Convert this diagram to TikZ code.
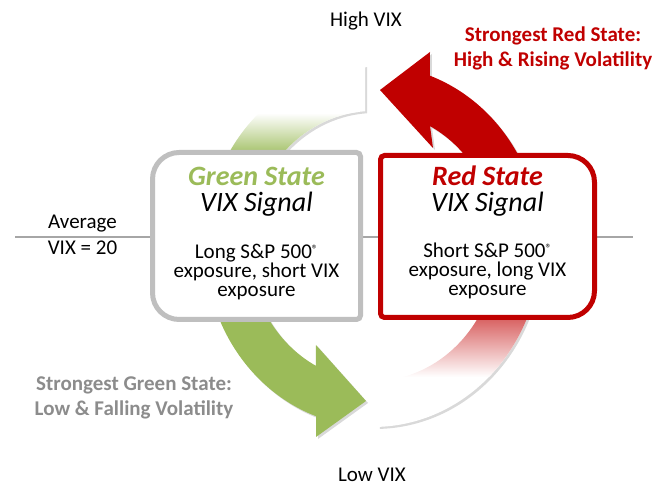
\documentclass[tikz,border=0pt]{standalone}
\usepackage{fontspec}
\setmainfont{Carlito}
\usepackage{tikz}
\usetikzlibrary{calc,shadows}
\definecolor{vixred}{HTML}{C00000}
\definecolor{vixgreen}{HTML}{9BBB59}
\definecolor{boxgray}{HTML}{BFBFBF}
\definecolor{labelgray}{HTML}{8C8C8C}
\definecolor{linegray}{HTML}{A6A6A6}
\newcommand{\regmark}{\raisebox{0.55ex}{\fontsize{9}{9}\selectfont ®}}
\tikzstyle{vixtext} = [font=\fontsize{15.75}{19.5}\selectfont, align=center, anchor=base, inner sep=0pt]
\tikzstyle{statetitle} = [font=\fontsize{21}{24}\selectfont\bfseries\itshape, anchor=base, inner sep=0pt]
\tikzstyle{statesignal} = [font=\fontsize{21}{24}\selectfont\itshape, anchor=base, inner sep=0pt]
\tikzstyle{statebody} = [font=\fontsize{15.75}{14.25}\selectfont, align=center, anchor=base, inner sep=0pt]
\tikzstyle{strongtext} = [font=\fontsize{15.75}{18.75}\selectfont\bfseries, align=center, anchor=base, inner sep=0pt]
\tikzstyle{statebox} = [line width=3.75pt, fill=white]
\tikzstyle{arcshadow} = [drop shadow={opacity=0.3, shadow xshift=1.5pt, shadow yshift=-1.5pt}]

\begin{document}
\begin{tikzpicture}[x=0.75pt, y=0.75pt]
    \useasboundingbox (0,0) rectangle (669,491);
    \coordinate (avgleft) at (15,254);
    \coordinate (avgright) at (633,254);
    \draw[linegray, line width=1.5pt] (avgleft) -- (avgright);

    \begin{scope}[shift={(373,245)}]
        \def\toparc{(92.7:168 and 181) arc[start angle=92.7, end angle=180, x radius=168, y radius=181] -- (180:124 and 135) arc[start angle=180, end angle=93.7, x radius=124, y radius=135] -- cycle}
        \def\bottomarc{(271.7:168 and 181) arc[start angle=271.7, end angle=360, x radius=168, y radius=181] -- (0:124 and 135) arc[start angle=360, end angle=272.3, x radius=124, y radius=135] -- cycle}
        \fill[white, arcshadow] \toparc;
        \begin{scope}
            \clip \toparc;
            \fill[vixgreen] (-200,-10) rectangle (20,88);
            \shade[top color=white, bottom color=vixgreen] (-200,88) rectangle (20,133);
        \end{scope}
        \fill[white, arcshadow] \bottomarc;
        \begin{scope}
            \clip \bottomarc;
            \fill[vixred] (0,-36) rectangle (200,20);
            \shade[top color=vixred, bottom color=white] (0,-131) rectangle (200,-36);
        \end{scope}
        \fill[vixred, arcshadow] (0:168 and 181) arc[start angle=0, end angle=70.2, x radius=168, y radius=181] -- (57,194) -- (7,156) -- (60,98) -- (62.6:124 and 135) arc[start angle=62.6, end angle=0, x radius=124, y radius=135] -- cycle;
        \fill[vixgreen, arcshadow] (180:168 and 181) arc[start angle=180, end angle=250.2, x radius=168, y radius=181] -- (-57,-191) -- (-7,-155) -- (-57,-99) -- (242.6:124 and 135) arc[start angle=242.6, end angle=180, x radius=124, y radius=135] -- cycle;
    \end{scope}

    \draw[statebox, draw=boxgray] (256,338.5) [rounded corners=3pt] -- (360.5,338.5) -- (360.5,171.5) -- (256,171.5) [rounded corners=20pt] -- (152.5,171.5) -- (152.5,338.5) -- cycle;
    \draw[statebox, draw=vixred] (487.5,335.5) [rounded corners=20pt] -- (594.5,335.5) -- (594.5,173.5) -- (487.5,173.5) [rounded corners=3pt] -- (380.5,173.5) -- (380.5,335.5) -- cycle;

    \node[statetitle, text=vixgreen] at (256.5,305) (greentitle) {Green State};
    \node[statesignal] at (256.5,279) (greensignal) {VIX Signal};
    \node[statebody] at (256.5,194) (greenbody) {Long S\&P 500\regmark\\exposure, short VIX\\exposure};

    \node[statetitle, text=vixred] at (487.5,305) (redtitle) {Red State};
    \node[statesignal] at (487.5,279) (redsignal) {VIX Signal};
    \node[statebody] at (487.5,195) (redbody) {Short S\&P 500\regmark\\exposure, long VIX\\exposure};

    \node[vixtext] at (366,464) (highvix) {High VIX};
    \node[vixtext] at (372,9) (lowvix) {Low VIX};
    \node[vixtext] at (82.5,236) (avgvix) {Average\\VIX = 20};
    \node[strongtext, text=vixred] at (553,424) (redstrong) {Strongest Red State:\\High \& Rising Volatility};
    \node[strongtext, text=labelgray] at (134,75) (greenstrong) {Strongest Green State:\\Low \& Falling Volatility};
\end{tikzpicture}
\end{document}
